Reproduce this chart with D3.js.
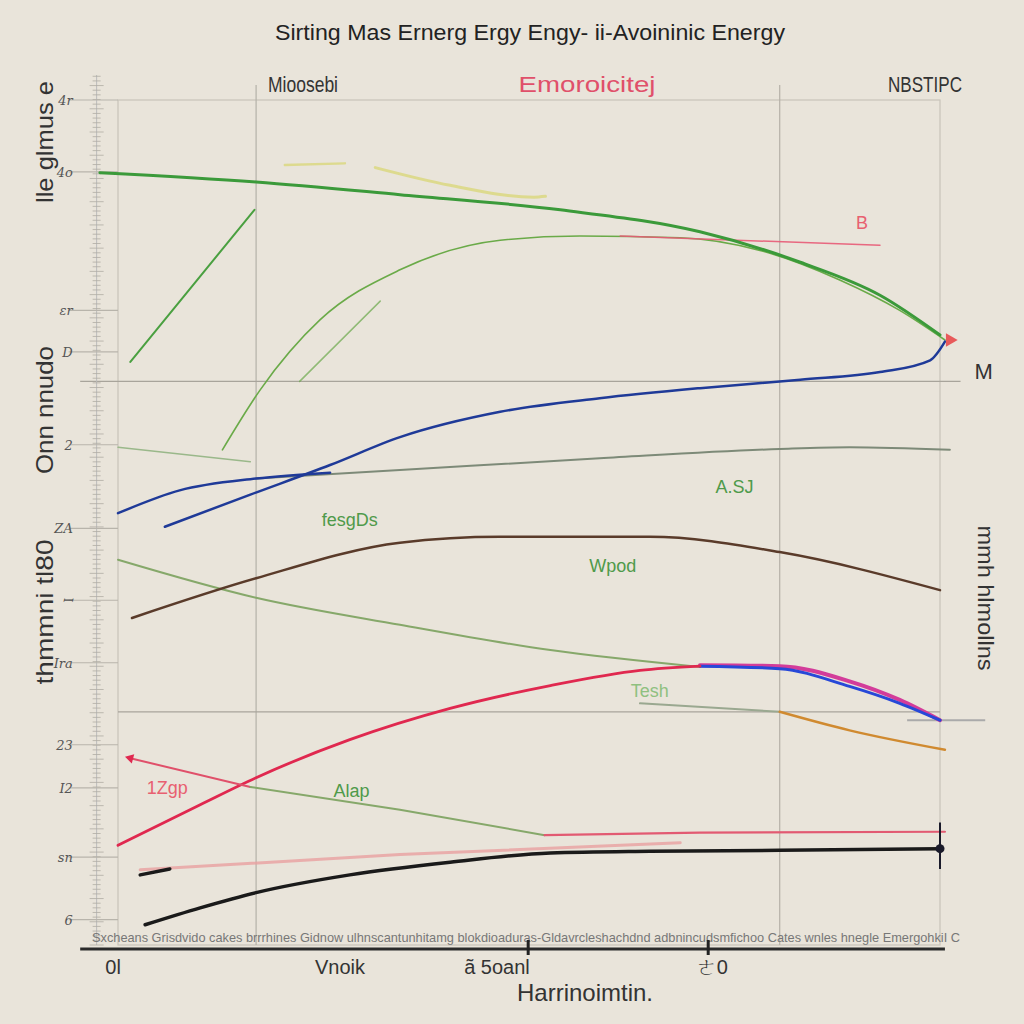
<!DOCTYPE html>
<html><head><meta charset="utf-8">
<script src="https://cdn.jsdelivr.net/npm/d3@7"></script>
<style>html,body{margin:0;padding:0;background:#e9e4da;}svg{display:block;}</style>
</head><body>
<svg id="c" width="1024" height="1024"></svg>
<script>
// ---- data (chart units: x 0..100, y 0..100) ----
const title = "Sirting Mas Ernerg Ergy Engy- ii-Avoininic Energy";
const topLabels = ["Mioosebi", "Emoroicitej", "NBSTIPC"];
const leftTitles = ["lle ɡlmus e", "Onn nnudo", "thmmni tl80"];
const rightTitle = "mmh hlmollns";
const xTitle = "Harrinoimtin.";
const xTickLabels = ["0l", "Vnoik", "ã 5oanl", "ㄜ0"];
const xTickValues = [-0.6, 27, 46.1, 72.3];
const xTickMarks = [49.9, 71.8];
const yTickLabels = ["4r", "4o", "ɛr", "D", "2", "ZA", "ꟷ", "Ira", "23", "I2", "sn", "6"];
const yTickValues = [100, 91.5, 75.1, 70.2, 59.2, 49.3, 40.8, 33.4, 23.7, 18.6, 10.4, 3];
const footText = "Sxcheans Grisdvido cakes brrrhines Gidnow ulhnscantunhitamg blokdioaduras-Gldavrcleshachdnd adbnincudsmfichoo Cates wnles hnegle EmergohkiI C";

const greenTop   = [[-2.2,91.4],[16.8,90.3],[34.3,88.8],[53.8,87],[70.8,84.4],[83,80.8],[92.7,76.9],[100,72.2]];
const greenRise  = [[12.7,58.6],[17.3,65.7],[24.6,74],[34.3,79.9],[46.5,83.4],[56.2,83.9],[68.4,83.7],[78.1,82.2],[87.8,78.7],[95.1,75.1],[100.6,71.6]];
const greenShort = [[1.5,69],[16.6,87]];
const greenFaint = [[22.1,66.7],[31.9,76.2]];
const blueA      = [[0,51.1],[7.5,53.8],[16.8,55.2],[25.8,55.9]];
const grayLine   = [[16.8,55.2],[34.3,56.2],[58.6,57.6],[80.5,58.7],[89,58.9],[101.2,58.6]];
const blueB      = [[5.7,49.5],[16.1,53.3],[25.8,56.8],[34.3,60.1],[46.5,63.1],[58.6,64.7],[70.8,65.9],[83,66.9],[92.7,67.8],[98.8,69.2],[100.6,71.4]];
const faintGreen = [[0,58.9],[16.1,57.2]];
const greenDesc  = [[0,45.6],[16.8,41.1],[34.3,37.9],[52.6,34.9],[70.8,32.9]];
const brown      = [[1.7,38.7],[16.8,43.4],[34.3,47.6],[46.5,48.3],[64.7,48.3],[80.5,46.5],[100,42]];
const red        = [[0,11.8],[10,16.6],[16.8,19.8],[28.2,24.3],[40.4,28],[52.6,30.7],[63.5,32.5],[70.8,33]];
const tailBlue   = [[70.8,33],[80.5,32.7],[89,30.6],[95.1,28.6],[100,26.6]];
const tailMag    = [[70.8,33.1],[80.5,33],[89,31.2],[95.1,29],[100,26.6]];
const grayGreen2 = [[63.5,28.6],[80.5,27.6]];
const orange     = [[80.5,27.6],[89,25.4],[100.6,23.1]];
const redArrow   = [[1.5,22.1],[16.1,18.7]];
const greenLow   = [[16.1,18.7],[34.3,16],[51.9,13]];
const pinkLine   = [[51.9,13],[70.8,13.3],[100.6,13.4]];
const faintPink  = [[2.7,8.9],[34.3,10.7],[68.4,12.1]];
const black      = [[3.3,2.4],[10,4.4],[16.8,6.2],[28.2,8.3],[40.4,9.8],[52.6,10.9],[64.7,11.1],[80.5,11.2],[100,11.4]];
const blackStub  = [[2.7,8.3],[6.3,9]];
const redMarkLine= [[61.1,83.9],[92.7,82.8]];
const yellow1    = [[20.3,92.3],[27.6,92.5]];
const yellow2    = [[31.3,92],[40.4,89.9],[50.6,88.5],[52,88.6]];

const inlineLabels = [
  {t:"fesgDs", x:28.2, y:49.6, c:"#4f9a4a"},
  {t:"Wpod",   x:60.2, y:44.2, c:"#4f9a4a"},
  {t:"A.SJ",   x:75, y:53.5, c:"#4f9a4a"},
  {t:"Tesh",   x:64.7, y:29.3, c:"#8fc080"},
  {t:"1Zgp",   x:6, y:17.9, c:"#e86070"},
  {t:"Alap",   x:28.4, y:17.5, c:"#4f9a4a"},
  {t:"B",      x:90.5, y:84.7, c:"#e86070"},
  {t:"M",      x:105.3, y:67, c:"#333"}
];

// ---- scales ----
const svg = d3.select("#c");
const x = d3.scaleLinear().domain([0,100]).range([118,940]);
const y = d3.scaleLinear().domain([0,100]).range([945,100]);
const line = d3.line().x(d=>x(d[0])).y(d=>y(d[1])).curve(d3.curveMonotoneX);
const straight = d3.line().x(d=>x(d[0])).y(d=>y(d[1]));

svg.append("rect").attr("width",1024).attr("height",1024).attr("fill","#e9e4da");

// frame and grid
svg.append("rect").attr("x",x(0)).attr("y",y(100)).attr("width",x(100)-x(0)).attr("height",y(0)-y(100))
  .attr("fill","none").attr("stroke","#c8c4ba").attr("stroke-width",1.2);
[16.8,80.5].forEach(v=>svg.append("line").attr("x1",x(v)).attr("x2",x(v)).attr("y1",y(100)-15).attr("y2",y(0))
  .attr("stroke","#b5b1a8").attr("stroke-width",1.2));
svg.append("line").attr("x1",x(-4.6)).attr("x2",x(102.5)).attr("y1",y(66.7)).attr("y2",y(66.7)).attr("stroke","#a8a49b").attr("stroke-width",1.3);
svg.append("line").attr("x1",x(0)).attr("x2",x(100)).attr("y1",y(27.6)).attr("y2",y(27.6)).attr("stroke","#a8a49b").attr("stroke-width",1.3);
svg.append("line").attr("x1",x(96)).attr("x2",x(105.5)).attr("y1",y(26.6)).attr("y2",y(26.6)).attr("stroke","#aaa").attr("stroke-width",2);

// left ruler
const ruler = svg.append("g").attr("transform",`translate(${x(-2.6)},0)`);
const yr = d3.scaleLinear().domain([0,103]).range([945,75]);
ruler.append("line").attr("y1",yr(103)).attr("y2",yr(0)).attr("stroke","#bbb");
d3.range(0,103,0.55).forEach((v,i)=>{
  const L = i%5===0 ? 7 : 4;
  ruler.append("line").attr("x1",-L).attr("x2",L).attr("y1",yr(v)).attr("y2",yr(v)).attr("stroke","#b0aca3").attr("stroke-width",0.8);
});
yTickValues.forEach((v,i)=>{
  svg.append("line").attr("x1",x(-6)).attr("x2",x(0)).attr("y1",y(v)).attr("y2",y(v)).attr("stroke","#b8b4ab").attr("stroke-width",1.2);
  svg.append("text").attr("x",x(-5.5)).attr("y",y(v)+5).attr("text-anchor","end")
    .attr("font-family","DejaVu Serif").attr("font-style","italic").attr("font-size",13).attr("fill","#555").text(yTickLabels[i]);
});

// series
function draw(d, col, w, op=1, gen=line){
  svg.append("path").attr("d",gen(d)).attr("fill","none").attr("stroke",col).attr("stroke-width",w)
    .attr("stroke-linecap","round").attr("opacity",op);
}
draw(yellow1,"#d9d77a",2.5,0.8);
draw(yellow2,"#d9d77a",3,0.8);
draw(greenFaint,"#6aa84a",1.5,0.7,straight);
draw(greenShort,"#4aa040",2,1,straight);
draw(greenRise,"#6aaa48",1.6);
draw(redMarkLine,"#e85a75",1.5,0.9,straight);
draw(greenTop,"#3b9a3a",3);
draw(faintGreen,"#9ab88a",1.5);
draw(grayLine,"#7d8a78",2);
draw(blueA,"#1f3a98",2.5);
draw(blueB,"#1f3a98",2.5);
draw(greenDesc,"#86a86a",2);
draw(brown,"#5a3b2a",2.5);
draw(grayGreen2,"#9aa890",2);
draw(orange,"#d08a30",2.5);
draw(tailMag,"#d33c9a",4);
draw(tailBlue,"#2748d8",3);
draw(red,"#e0284f",2.8);
draw(redArrow,"#e0506a",2,1,straight);
draw(greenLow,"#86a86a",2,1,straight);
draw(faintPink,"#e8a0a0",3,0.8,straight);
draw(pinkLine,"#e25a72",2.2);
draw(black,"#1a1a1a",3.5);
draw(blackStub,"#1a1a1a",3.5,1,straight);

// markers
svg.append("path").attr("d",d3.symbol(d3.symbolTriangle,80)()).attr("fill","#e85a5a")
  .attr("transform",`translate(${x(101.2)},${y(71.6)}) rotate(90)`);
svg.append("path").attr("d",d3.symbol(d3.symbolTriangle,40)()).attr("fill","#e0284f")
  .attr("transform",`translate(${x(1.5)},${y(22.1)}) rotate(-75)`);
svg.append("circle").attr("cx",x(100)).attr("cy",y(11.4)).attr("r",4.5).attr("fill","#1a1a2a");
svg.append("line").attr("x1",x(100)).attr("x2",x(100)).attr("y1",y(14.5)).attr("y2",y(9)).attr("stroke","#1a1a2a").attr("stroke-width",2);

// inline labels
inlineLabels.forEach(l=>svg.append("text").attr("x",x(l.x)).attr("y",y(l.y)).attr("text-anchor","middle")
  .attr("font-family","Liberation Sans Narrow, Liberation Sans").attr("font-size",l.t==="M"?22:18).attr("fill",l.c).text(l.t));

// bottom axis
svg.append("text").attr("x",92).attr("y",942).attr("font-family","Liberation Sans Narrow, Liberation Sans")
  .attr("font-size",13).attr("fill","#777").attr("textLength",868).attr("lengthAdjust","spacingAndGlyphs").text(footText);
svg.append("line").attr("x1",x(-4.6)).attr("x2",x(100.6)).attr("y1",949).attr("y2",949).attr("stroke","#2a2a2a").attr("stroke-width",3);
xTickMarks.forEach(v=>svg.append("line").attr("x1",x(v)).attr("x2",x(v)).attr("y1",940).attr("y2",955).attr("stroke","#222").attr("stroke-width",3));
xTickValues.forEach((v,i)=>svg.append("text").attr("x",x(v)).attr("y",974).attr("text-anchor","middle")
  .attr("font-family","Liberation Sans Narrow, Liberation Sans").attr("font-size",20).attr("fill","#333").text(xTickLabels[i]));
svg.append("text").attr("x",585).attr("y",1001).attr("text-anchor","middle")
  .attr("font-family","Liberation Sans Narrow, Liberation Sans").attr("font-size",24).attr("fill","#333").text(xTitle);

// titles
svg.append("text").attr("x",275).attr("y",40).attr("font-family","Liberation Sans").attr("font-size",22)
  .attr("fill","#222").attr("textLength",510).attr("lengthAdjust","spacingAndGlyphs").text(title);
const tl = [{x:303,w:70,c:"#333"},{x:587,w:137,c:"#e0506a"},{x:925,w:74,c:"#333"}];
topLabels.forEach((t,i)=>svg.append("text").attr("x",tl[i].x-tl[i].w/2).attr("y",92)
  .attr("font-family","Liberation Sans Narrow, Liberation Sans").attr("font-size",22).attr("fill",tl[i].c)
  .attr("textLength",tl[i].w).attr("lengthAdjust","spacingAndGlyphs").text(t));
const lt = [{cy:142,len:122},{cy:410,len:128},{cy:612,len:145}];
leftTitles.forEach((t,i)=>svg.append("text").attr("transform",`translate(53,${lt[i].cy}) rotate(-90)`)
  .attr("text-anchor","middle").attr("font-family","Liberation Sans Narrow, Liberation Sans").attr("font-size",24)
  .attr("fill","#333").attr("textLength",lt[i].len).attr("lengthAdjust","spacingAndGlyphs").text(t));
svg.append("text").attr("transform",`translate(978,598) rotate(90)`).attr("text-anchor","middle")
  .attr("font-family","Liberation Sans Narrow, Liberation Sans").attr("font-size",22).attr("fill","#333")
  .attr("textLength",145).attr("lengthAdjust","spacingAndGlyphs").text(rightTitle);
</script>
</body></html>
